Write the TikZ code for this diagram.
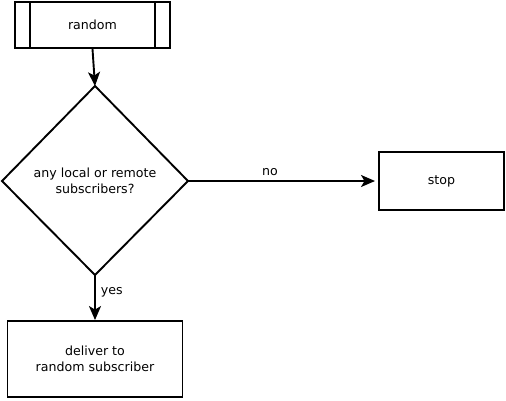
\documentclass[tikz,border=0pt]{standalone}
\usepackage{fontspec}
\setmainfont{DejaVu Sans}
\usetikzlibrary{arrows.meta}
\begin{document}
\begin{tikzpicture}[x=1pt,y=-1pt,
  line width=1.9pt,
  txt/.style={font=\fontsize{12.6}{16}\selectfont, align=center, inner sep=0pt},
  arr/.style={-{Stealth[length=14pt,width=12pt,inset=3.5pt]}, line width=1.9pt}]
\useasboundingbox (0,0) rectangle (506,400);
% random predefined process
\node[draw, minimum width=155pt, minimum height=46pt, inner sep=0pt] (rnd) at (92.5,25) {};
\draw ([xshift=16pt]rnd.north west) -- ([xshift=16pt]rnd.south west);
\draw ([xshift=-16pt]rnd.north east) -- ([xshift=-16pt]rnd.south east);
\node[txt] (rndt) at (rnd.center) {random};
% diamond
\coordinate (dt) at (95,86);
\coordinate (db) at (95,275);
\coordinate (dl) at (2,181);
\coordinate (dr) at (188,181);
\draw (dt) -- (dr) -- (db) -- (dl) -- cycle;
\node[txt] (q) at (95,181) {any local or remote\\subscribers?};
% stop
\node[draw, minimum width=125pt, minimum height=58pt, inner sep=0pt] (stop) at (441.5,181) {};
\node[txt] (stopt) at (stop.center) {stop};
% deliver
\node[draw, minimum width=175pt, minimum height=76pt, inner sep=0pt] (del) at (95,359) {};
\node[txt] (delt) at (del.center) {deliver to\\random subscriber};
% connectors
\draw[arr] (rnd.south) -- (dt);
\coordinate (stopin) at (375,181);
\draw[arr] (dr) -- (stopin);
\draw[arr] (db) -- (del.north);
\node[txt] (no) at (270,172.5) {no};
\node[txt, anchor=west] (yes) at (100,292) {yes};
\end{tikzpicture}
\end{document}
